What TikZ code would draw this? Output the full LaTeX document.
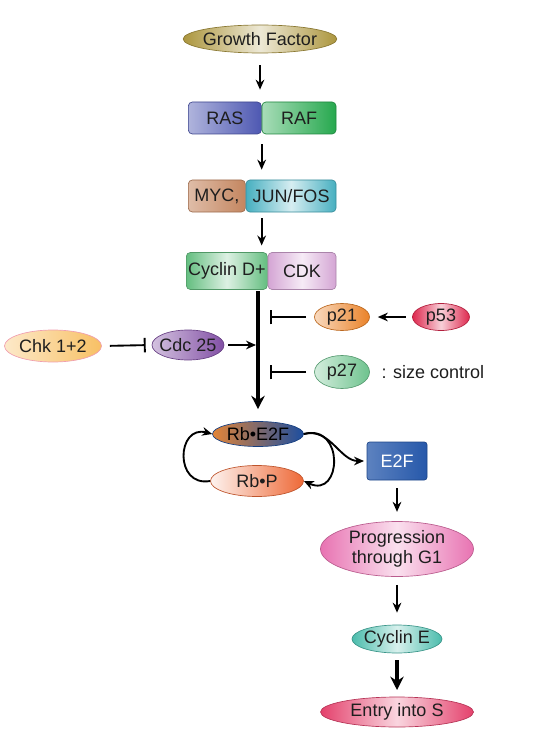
\documentclass[tikz,border=0pt]{standalone}
\usepackage{fontspec}
\setmainfont{Liberation Sans}
\usetikzlibrary{positioning,shapes.geometric,arrows.meta}

\definecolor{gfOlive}{RGB}{172,150,62}
\definecolor{rasBlue}{RGB}{78,88,178}
\definecolor{rafGreen}{RGB}{38,168,78}
\definecolor{mycBrown}{RGB}{196,134,96}
\definecolor{junTeal}{RGB}{70,175,192}
\definecolor{cycGreen}{RGB}{100,190,128}
\definecolor{cdkPink}{RGB}{212,165,212}
\definecolor{p21Orange}{RGB}{234,130,40}
\definecolor{p53Red}{RGB}{222,40,78}
\definecolor{chkYellow}{RGB}{248,192,100}
\definecolor{cdcPurple}{RGB}{130,80,165}
\definecolor{p27Green}{RGB}{110,195,142}
\definecolor{rbOrange}{RGB}{226,132,55}
\definecolor{rbBlue}{RGB}{28,78,160}
\definecolor{rbpOrange}{RGB}{238,105,55}
\definecolor{e2fBlue}{RGB}{38,88,170}
\definecolor{progPink}{RGB}{232,115,178}
\definecolor{cycETeal}{RGB}{75,188,172}
\definecolor{entryRed}{RGB}{228,65,108}
\definecolor{inkGray}{RGB}{30,30,30}

\newcommand{\pathfont}{\fontsize{13.5}{15.5}\selectfont}

\tikzset{every picture/.style={line width=0.75pt}}
\tikzset{
  oval/.style={ellipse, inner sep=0pt, line width=0.5pt, text=inkGray, font=\pathfont},
  block/.style={rectangle, rounded corners=3pt, inner sep=0pt, line width=0.5pt, text=inkGray, font=\pathfont},
  glow/.style={draw=#1!80!black, left color=#1, right color=#1, middle color=#1!22!white},
  grad/.style 2 args={draw=#2!80!black, left color=#1, right color=#2},
  arr/.style={line width=1.4pt, -{Stealth[length=7.5pt,width=6.5pt]}},
  thick arr/.style={line width=2.4pt, -{Stealth[length=10pt,width=10pt]}},
  inh/.style={line width=1.4pt, -{Bar[width=11pt]}}
}

\begin{document}
\begin{tikzpicture}[x=0.75pt,y=0.75pt,yscale=-1,xscale=1]
\useasboundingbox (0,0) rectangle (559,734);

%Shape: Ellipse
\node [oval, glow=gfOlive, minimum width=114.75pt, minimum height=21pt, inner xsep=-2pt] (gf) at (260,39) {Growth Factor};
%Shape: Rectangle
\node [block, grad={rasBlue!45!white}{rasBlue}, minimum width=54.75pt, minimum height=24pt, anchor=west] (ras) at (188,118) {RAS};
\node [block, grad={rafGreen!40!white}{rafGreen}, minimum width=55.5pt, minimum height=24pt, right=0pt of ras] (raf) {RAF};
%Shape: Rectangle
\node [block, grad={mycBrown!55!white}{mycBrown}, minimum width=42.75pt, minimum height=24pt, anchor=west] (myc) at (188,196) {MYC,};
\node [block, glow=junTeal, minimum width=67.5pt, minimum height=24pt, right=0pt of myc] (jun) {JUN/FOS};
%Shape: Rectangle
\node [block, glow=cycGreen, minimum width=60.75pt, minimum height=27.75pt, anchor=west] (cycd) at (186,271) {Cyclin D+};
\node [block, glow=cdkPink, minimum width=51pt, minimum height=27.75pt, right=0pt of cycd] (cdk) {CDK};

%Shape: Ellipse
\node [oval, grad={p21Orange!30!white}{p21Orange}, minimum width=41.25pt, minimum height=20.25pt] (p21) at (342,317) {p21};
\node [oval, glow=p53Red, minimum width=42.75pt, minimum height=20.25pt] (p53) at (441,317) {p53};
\node [oval, grad={chkYellow!35!white}{chkYellow}, draw=p53Red!45!white, minimum width=72.75pt, minimum height=24pt, inner xsep=-1pt] (chk) at (53,346) {Chk 1+2};
\node [oval, grad={cdcPurple!35!white}{cdcPurple}, minimum width=54pt, minimum height=22.5pt, inner xsep=-3pt] (cdc) at (188,345) {Cdc 25};
\node [oval, grad={p27Green!30!white}{p27Green}, minimum width=41.25pt, minimum height=24.75pt] (p27) at (342,372) {p27};
% Text Node
\node [anchor=west, inner sep=0pt, text=inkGray, font=\pathfont] (size) at (381,372) {: size control};

%Shape: Ellipse
\node [oval, grad={rbOrange}{rbBlue}, text=black, minimum width=68.25pt, minimum height=18.75pt, inner xsep=-1pt] (rbe) at (258,434) {Rb\textbullet E2F};
\node [oval, grad={rbpOrange!8!white}{rbpOrange}, minimum width=69.75pt, minimum height=23.25pt] (rbp) at (257,481) {Rb\textbullet P};
%Shape: Rectangle
\node [block, grad={e2fBlue!75!white}{e2fBlue}, text=white, rounded corners=2pt, minimum width=45pt, minimum height=28.5pt] (e2f) at (397,461) {E2F};
%Shape: Ellipse
\node [oval, glow=progPink, align=center, minimum width=114.75pt, minimum height=41.25pt, inner ysep=-1.5pt] (prog) at (397,549) {Progression\\through G1};
\node [oval, glow=cycETeal, minimum width=67.5pt, minimum height=21pt, inner xsep=-2pt] (cyce) at (397,639) {Cyclin E};
\node [oval, glow=entryRed, minimum width=114.75pt, minimum height=22.5pt] (entry) at (397,712) {Entry into S};

%Straight Lines
\coordinate (trunk) at (258,291);
\coordinate (bar21) at (270,317);
\coordinate (bar27) at (270,372);
\coordinate (join) at (256,345);
\draw [arr, shorten <=9pt, shorten >=9pt] (gf.south) -- (gf.south |- ras.north);
\draw [arr, shorten <=7.5pt, shorten >=7.5pt] (ras.south east) -- (ras.north east |- myc.north);
\draw [arr, shorten <=4.5pt, shorten >=5pt] (ras.east |- jun.south) -- (ras.east |- cycd.north);
\draw [thick arr, line width=3pt, shorten >=9pt] (trunk) -- (rbe.north);
\draw [inh, shorten <=6pt] (p21.west) -- (bar21);
\draw [arr, shorten <=5pt, shorten >=6pt] (p53.west) -- (p21.east);
\draw [inh, shorten <=6pt] (p27.west) -- (bar27);
\draw [inh, shorten <=6pt, shorten >=4.5pt] (chk.east) -- (cdc.west);
\draw [arr, shorten <=3pt] (cdc.east) -- (join);

%Curve Lines
\draw [arr] (rbp.west) to [out=170, in=195, looseness=2] (rbe.west);
\draw [arr] (rbe.east) to [out=-15, in=25, looseness=2.3] (rbp.east);
\draw [arr, shorten >=2pt] (rbe.east) to [out=-15, in=180] (e2f.west);

%Straight Lines
\draw [arr, shorten <=6pt, shorten >=7pt] (e2f.south) -- (prog.north);
\draw [arr, shorten <=6pt, shorten >=9pt] (prog.south) -- (cyce.north);
\draw [thick arr, shorten <=5pt, shorten >=5pt] (cyce.south) -- (entry.north);

\end{tikzpicture}
\end{document}
